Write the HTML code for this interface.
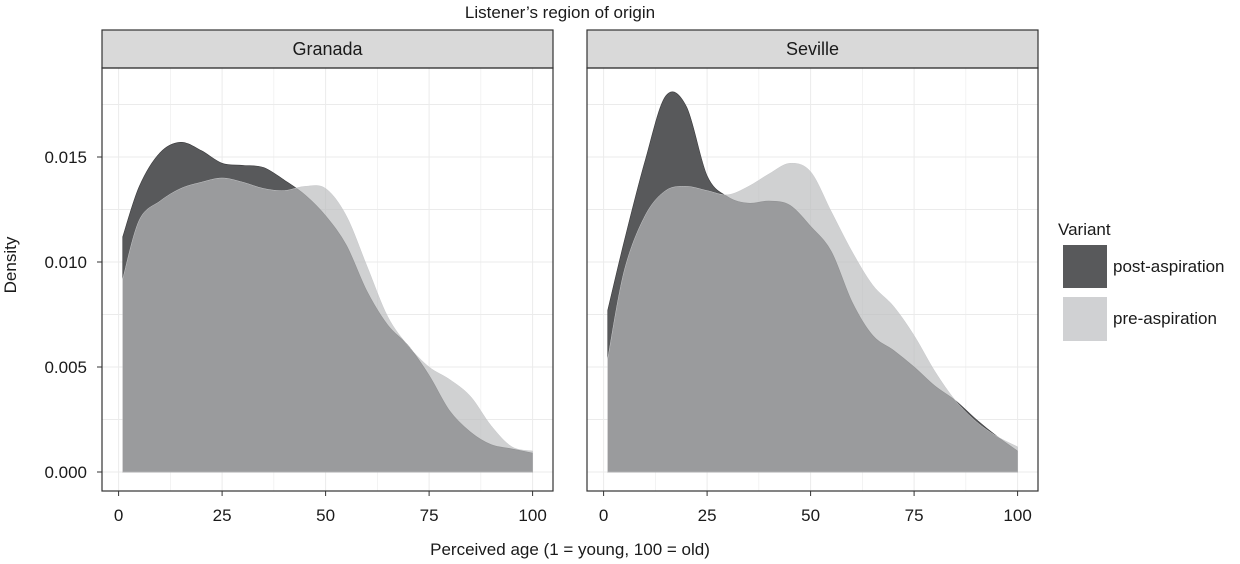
<!DOCTYPE html>
<html><head><meta charset="utf-8"><style>
body{margin:0;background:#fff;}
svg text{font-family:"Liberation Sans",Arial,sans-serif;fill:#1a1a1a;}
</style></head><body>
<svg id="chart" width="1240" height="559" viewBox="0 0 1240 559">
<text x="560" y="18" font-size="17" text-anchor="middle">Listener’s region of origin</text>
<text x="570" y="555" font-size="17" text-anchor="middle">Perceived age (1 = young, 100 = old)</text>
<text transform="translate(16,265) rotate(-90)" font-size="17" text-anchor="middle">Density</text>
<g id="panels"></g>
<g>
<text x="1058" y="235" font-size="17">Variant</text>
<rect x="1063" y="245" width="44" height="43" fill="#58595b"/>
<text x="1113" y="272" font-size="17">post-aspiration</text>
<rect x="1063" y="297" width="44" height="44" fill="#d0d1d3"/>
<text x="1113" y="324" font-size="17">pre-aspiration</text>
</g>
</svg>
<script>
const xs = [1,5,10,15,20,25,30,35,40,45,50,55,60,65,70,75,80,85,90,95,100];
const granadaPost = [0.0112,0.0136,0.0152,0.0157,0.0153,0.0147,0.0146,0.0145,0.0139,0.0132,0.0122,0.0108,0.0086,0.0070,0.0060,0.0046,0.0029,0.0019,0.0013,0.0011,0.0009];
const granadaPre = [0.0092,0.0120,0.0129,0.0135,0.0138,0.0140,0.0138,0.0135,0.0134,0.0136,0.0135,0.0122,0.0098,0.0074,0.0060,0.0050,0.0044,0.0036,0.0022,0.0012,0.0010];
const sevillePost = [0.0077,0.0110,0.0148,0.0179,0.0174,0.0141,0.0131,0.0128,0.0129,0.0127,0.0117,0.0105,0.0081,0.0065,0.0058,0.0050,0.0041,0.0034,0.0025,0.0017,0.0010];
const sevillePre = [0.0054,0.0096,0.0122,0.0134,0.0136,0.0134,0.0132,0.0136,0.0142,0.0147,0.0143,0.0124,0.0105,0.0089,0.0079,0.0065,0.0048,0.0034,0.0024,0.0017,0.0012];
const xTicks = [0,25,50,75,100];
const yTicks = [0,0.005,0.01,0.015];
const yTickLabels = ["0.000","0.005","0.010","0.015"];
const facets = ["Granada","Seville"];

const NS="http://www.w3.org/2000/svg";
const g=document.getElementById('panels');
function mk(t,a,p){const e=document.createElementNS(NS,t);for(const k in a)e.setAttribute(k,a[k]);(p||g).appendChild(e);return e;}
const yScale=v=>472-v*21000;
function path(xf,vals){
  const pts=xs.map((x,i)=>[xf(x),yScale(vals[i])]);
  let d=`M${pts[0][0]},${yScale(0)}L${pts[0][0]},${pts[0][1]}`;
  for(let i=0;i<pts.length-1;i++){
    const p0=pts[Math.max(0,i-1)],p1=pts[i],p2=pts[i+1],p3=pts[Math.min(pts.length-1,i+2)];
    const c1=[p1[0]+(p2[0]-p0[0])/6,p1[1]+(p2[1]-p0[1])/6],c2=[p2[0]-(p3[0]-p1[0])/6,p2[1]-(p3[1]-p1[1])/6];
    d+=`C${c1[0]},${c1[1]} ${c2[0]},${c2[1]} ${p2[0]},${p2[1]}`;
  }
  d+=`L${pts[pts.length-1][0]},${yScale(0)}Z`;return d;
}
const series=[[granadaPost,granadaPre],[sevillePost,sevillePre]];
[102,587].forEach((left,pi)=>{
  const x0=left+16.6, xf=x=>x0+x*4.14, w=451;
  const pg=mk('g',{});
  
  
  for(let v=-0.0025;v<=0.0175;v+=0.0025){const y=yScale(v);if(y<68||y>491)continue;const l=mk('line',{x1:left,x2:left+w,y1:y,y2:y,stroke:'#ebebeb','stroke-width':Math.abs(v*400-Math.round(v*400))<1e-6?1:0.6},pg);}
  for(let v=0;v<=100;v+=12.5){const l=mk('line',{x1:xf(v),x2:xf(v),y1:68,y2:491,stroke:'#ebebeb','stroke-width':v%25==0?1:0.6},pg);}
  const a=mk('path',{d:path(xf,series[pi][0]),fill:'#58595b',stroke:'#3a3a3c','stroke-width':0.6},pg);
  
  const b=mk('path',{d:path(xf,series[pi][1]),fill:'rgb(186,187,189)','fill-opacity':0.68,stroke:'#c8c9cb','stroke-width':0.5},pg);
  
  const s=mk('rect',{x:left,y:30,width:w,height:38,fill:'#d9d9d9',stroke:'#333','stroke-width':1.2},pg);
  
  const st=mk('text',{x:left+w/2,y:55,'font-size':18,'text-anchor':'middle'},pg);st.textContent=facets[pi];
  
  const r=mk('rect',{x:left,y:68,width:w,height:423,fill:'none',stroke:'#333','stroke-width':1.2},pg);
  
  xTicks.forEach(t=>{mk('line',{x1:xf(t),x2:xf(t),y1:491,y2:496,stroke:'#333'},pg);
    const tx=mk('text',{x:xf(t),y:521,'font-size':17,'text-anchor':'middle',fill:'#333'},pg);tx.textContent=t;
    });
  if(pi==0)yTicks.forEach((t,i)=>{mk('line',{x1:97,x2:102,y1:yScale(t),y2:yScale(t),stroke:'#333'},pg);
    const tx=mk('text',{x:87,y:yScale(t)+6,'font-size':17,'text-anchor':'end',fill:'#333'},pg);tx.textContent=yTickLabels[i];
    });
});
</script>
</body></html>
